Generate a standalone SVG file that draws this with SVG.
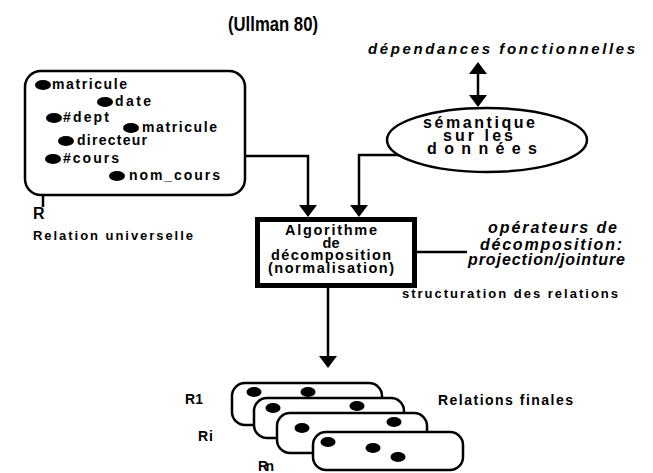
<svg xmlns="http://www.w3.org/2000/svg" width="653" height="473" viewBox="0 0 653 473">
<style>
text{font-family:"Liberation Sans",Arial,sans-serif;font-weight:bold;fill:#000}
.bi{font-style:italic}
.ln{fill:none;stroke:#000;stroke-width:2.5}
.box{fill:#fff;stroke:#000;stroke-width:2.5}
.dot{fill:#000}
.c{text-anchor:middle}
.it{font-size:14px}
</style>
<defs>
<marker id="ah" viewBox="0 0 12 18" refX="10" refY="9" markerWidth="12" markerHeight="18" markerUnits="userSpaceOnUse" orient="auto-start-reverse">
<path d="M0,0 L12,9 L0,18 z" fill="#000"/>
</marker>
</defs>
<text x="228" y="31" font-size="20" textLength="90" lengthAdjust="spacingAndGlyphs">(Ullman 80)</text>
<text class="bi" x="368" y="54" font-size="15" textLength="267">dépendances  fonctionnelles</text>
<g id="connectors">
<path class="ln" d="M245,156 H308 V215" marker-end="url(#ah)"/>
<path class="ln" d="M400,155 H359 V215" marker-end="url(#ah)"/>
<path class="ln" d="M478,64 V105" marker-start="url(#ah)" marker-end="url(#ah)"/>
<path class="ln" d="M415,252 H467"/>
<path class="ln" d="M328,288 V366" marker-end="url(#ah)"/>
<path class="ln" d="M43,183 V207"/>
</g>
<g id="relation-universelle">
<rect class="box" x="25" y="71" width="220" height="124" rx="16"/>
<ellipse class="dot" cx="43" cy="85" rx="8" ry="5"/>
<text class="it" x="52" y="89" textLength="75">matricule</text>
<ellipse class="dot" cx="105" cy="102" rx="8" ry="5"/>
<text class="it" x="115" y="106" textLength="36">date</text>
<ellipse class="dot" cx="54" cy="118" rx="8" ry="5"/>
<text class="it" x="63" y="122" textLength="46">#dept</text>
<ellipse class="dot" cx="131" cy="128" rx="8" ry="5"/>
<text class="it" x="142" y="132" textLength="75">matricule</text>
<ellipse class="dot" cx="66" cy="141" rx="8" ry="5"/>
<text class="it" x="77" y="145" textLength="70">directeur</text>
<ellipse class="dot" cx="53" cy="159" rx="8" ry="5"/>
<text class="it" x="63" y="163" textLength="56">#cours</text>
<ellipse class="dot" cx="117" cy="176" rx="8" ry="5"/>
<text class="it" x="129" y="180" textLength="91">nom_cours</text>
<text x="33" y="219" font-size="16">R</text>
<text x="33" y="240" font-size="13" textLength="160">Relation universelle</text>
</g>
<g id="semantique">
<ellipse class="box" cx="487" cy="140" rx="100" ry="32"/>
<text class="c" x="479" y="128" font-size="16" textLength="112">sémantique</text>
<text class="c" x="478" y="141" font-size="16" textLength="70">sur les</text>
<text class="c" x="482" y="154" font-size="16" textLength="110">données</text>
</g>
<g id="algorithme">
<rect x="257.5" y="219.5" width="157" height="66" fill="#fff" stroke="#000" stroke-width="5"/>
<text class="c" x="331" y="235" font-size="14.5" textLength="92">Algorithme</text>
<text class="c" x="331" y="248" font-size="14.5">de</text>
<text class="c" x="331" y="260" font-size="14.5" textLength="120">décomposition</text>
<text class="c" x="331" y="273" font-size="14.5" textLength="126">(normalisation)</text>
</g>
<g id="operateurs">
<text class="bi" x="488" y="233" font-size="16" textLength="129">opérateurs de</text>
<text class="bi" x="480" y="250" font-size="16" textLength="142">décomposition:</text>
<text class="bi" x="468" y="265" font-size="16" textLength="157">projection/jointure</text>
</g>
<text x="402" y="298" font-size="13" textLength="216">structuration des relations</text>
<g id="relations-finales">
<rect class="box" x="232" y="383" width="150" height="42" rx="13"/>
<ellipse class="dot" cx="254" cy="392" rx="7.5" ry="5"/>
<ellipse class="dot" cx="308" cy="392" rx="7.5" ry="5"/>
<rect class="box" x="254" y="398" width="150" height="40" rx="13"/>
<ellipse class="dot" cx="273" cy="408" rx="7.5" ry="5"/>
<ellipse class="dot" cx="357" cy="406" rx="7.5" ry="5"/>
<rect class="box" x="277" y="413" width="150" height="40" rx="13"/>
<ellipse class="dot" cx="302" cy="428" rx="7.5" ry="5"/>
<ellipse class="dot" cx="394" cy="422" rx="7.5" ry="5"/>
<rect class="box" x="313" y="432" width="150" height="38" rx="13"/>
<ellipse class="dot" cx="328" cy="442" rx="7.5" ry="5"/>
<ellipse class="dot" cx="373" cy="448" rx="7.5" ry="5"/>
<ellipse class="dot" cx="398" cy="457" rx="7.5" ry="5"/>
<text x="185" y="404" font-size="14" textLength="18">R1</text>
<text x="198" y="441" font-size="14" textLength="15">Ri</text>
<text x="258" y="471" font-size="14" textLength="16">Rn</text>
<text x="438" y="405" font-size="14" textLength="135">Relations finales</text>
</g>
</svg>
